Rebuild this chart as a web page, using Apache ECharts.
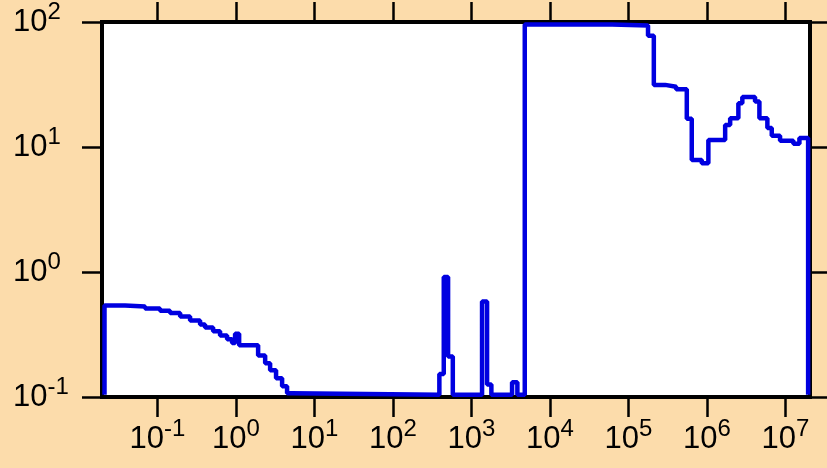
<!DOCTYPE html>
<html>
<head>
<meta charset="utf-8">
<script src="https://cdn.jsdelivr.net/npm/echarts@6/dist/echarts.min.js"></script>
<style>
  html, body { margin: 0; padding: 0; background: #fcdcab; }
  #chart { width: 827px; height: 468px; }
</style>
</head>
<body>
<div id="chart"></div>
<script>
// histogram bin edges (x) and bin heights (y)
const binEdges = [0.0212, 0.0388, 0.0697, 0.108, 0.145, 0.195, 0.261, 0.350, 0.405, 0.513,
  0.629, 0.773, 0.895, 0.977, 1.10, 1.92, 2.36, 2.73, 3.25, 3.88, 4.49, 5.20,
  391, 445, 505, 580, 1368, 1585, 1798, 3300, 3855, 4790,
  62000, 178000, 211000, 294000, 406000, 555000, 642000, 861000,
  1.045e6, 1.71e6, 1.98e6, 2.52e6, 2.83e6, 4.11e6, 4.67e6, 5.90e6, 6.71e6, 8.56e6,
  1.265e7, 1.51e7, 1.95e7];
const binValues = [0.54, 0.53, 0.51, 0.49, 0.47, 0.44, 0.41, 0.38, 0.36, 0.335,
  0.31, 0.29, 0.27, 0.32, 0.26, 0.215, 0.186, 0.164, 0.141, 0.122, 0.107, 0.104,
  0.153, 0.91, 0.211, 0.104, 0.581, 0.126, 0.104, 0.131, 0.104,
  95.7, 93.9, 77.6, 31.4, 30.3, 29.0, 16.8, 7.88, 7.41,
  11.4, 15.0, 17.0, 22.4, 25.1, 23.1, 17.0, 14.2, 12.3, 11.2, 10.6, 11.8];
const floorValue = 0.104;

const xTicks = [0.1, 1, 10, 100, 1e3, 1e4, 1e5, 1e6, 1e7];
const yTicks = [0.1, 1, 10, 100];
const xMin = 0.0197, xMax = 2.03e7;
const yMin = 0.1, yMax = 100;

// step points: left edge + value, closed down to the floor at both ends
const points = [[binEdges[0], floorValue]];
binValues.forEach((v, i) => points.push([binEdges[i], v]));
points.push([binEdges[binEdges.length - 1], binValues[binValues.length - 1]]);
points.push([binEdges[binEdges.length - 1], floorValue]);

const font = "'Liberation Sans', Arial, sans-serif";
const rich = {
  b: { fontSize: 31, lineHeight: 31, fontFamily: font, color: "#000" },
  s: { fontSize: 24, lineHeight: 24, fontFamily: font, color: "#000", padding: [0, 0, 20, 0] }
};
function powLabel(v) {
  const e = Math.round(Math.log10(v));
  return "{b|10}{s|" + e + "}";
}
const frameLine = { show: true, lineStyle: { color: "#000", width: 4, cap: "square" } };
const tick = { show: true, length: 20, lineStyle: { color: "#000", width: 2.5 } };

const chart = echarts.init(document.getElementById("chart"));
chart.setOption({
  animation: false,
  backgroundColor: "#fcdcab",
  grid: {
    left: 102, right: 17.5, top: 22, bottom: 71,
    show: true, backgroundColor: "#fff", borderWidth: 0
  },
  xAxis: [
    {
      type: "log", logBase: 10, min: xMin, max: xMax, position: "bottom",
      axisLine: frameLine,
      axisTick: { ...tick, customValues: xTicks },
      splitLine: { show: false },
      axisLabel: { customValues: xTicks, margin: 27, formatter: powLabel, rich: rich }
    },
    {
      type: "log", logBase: 10, min: xMin, max: xMax, position: "top",
      axisLine: frameLine,
      axisTick: { ...tick, customValues: xTicks },
      splitLine: { show: false },
      axisLabel: { show: false }
    }
  ],
  yAxis: [
    {
      type: "log", logBase: 10, min: yMin, max: yMax, position: "left",
      axisLine: frameLine,
      axisTick: { ...tick, customValues: yTicks },
      splitLine: { show: false },
      axisLabel: { customValues: yTicks, align: "left", margin: 89, formatter: powLabel, rich: rich }
    },
    {
      type: "log", logBase: 10, min: yMin, max: yMax, position: "right",
      axisLine: frameLine,
      axisTick: { ...tick, customValues: yTicks },
      splitLine: { show: false },
      axisLabel: { show: false }
    }
  ],
  series: [
    {
      type: "line",
      step: "end",
      xAxisIndex: 0,
      yAxisIndex: 0,
      symbol: "none",
      lineStyle: { color: "#0000e0", width: 4.5 },
      data: points
    }
  ]
});
</script>
</body>
</html>
